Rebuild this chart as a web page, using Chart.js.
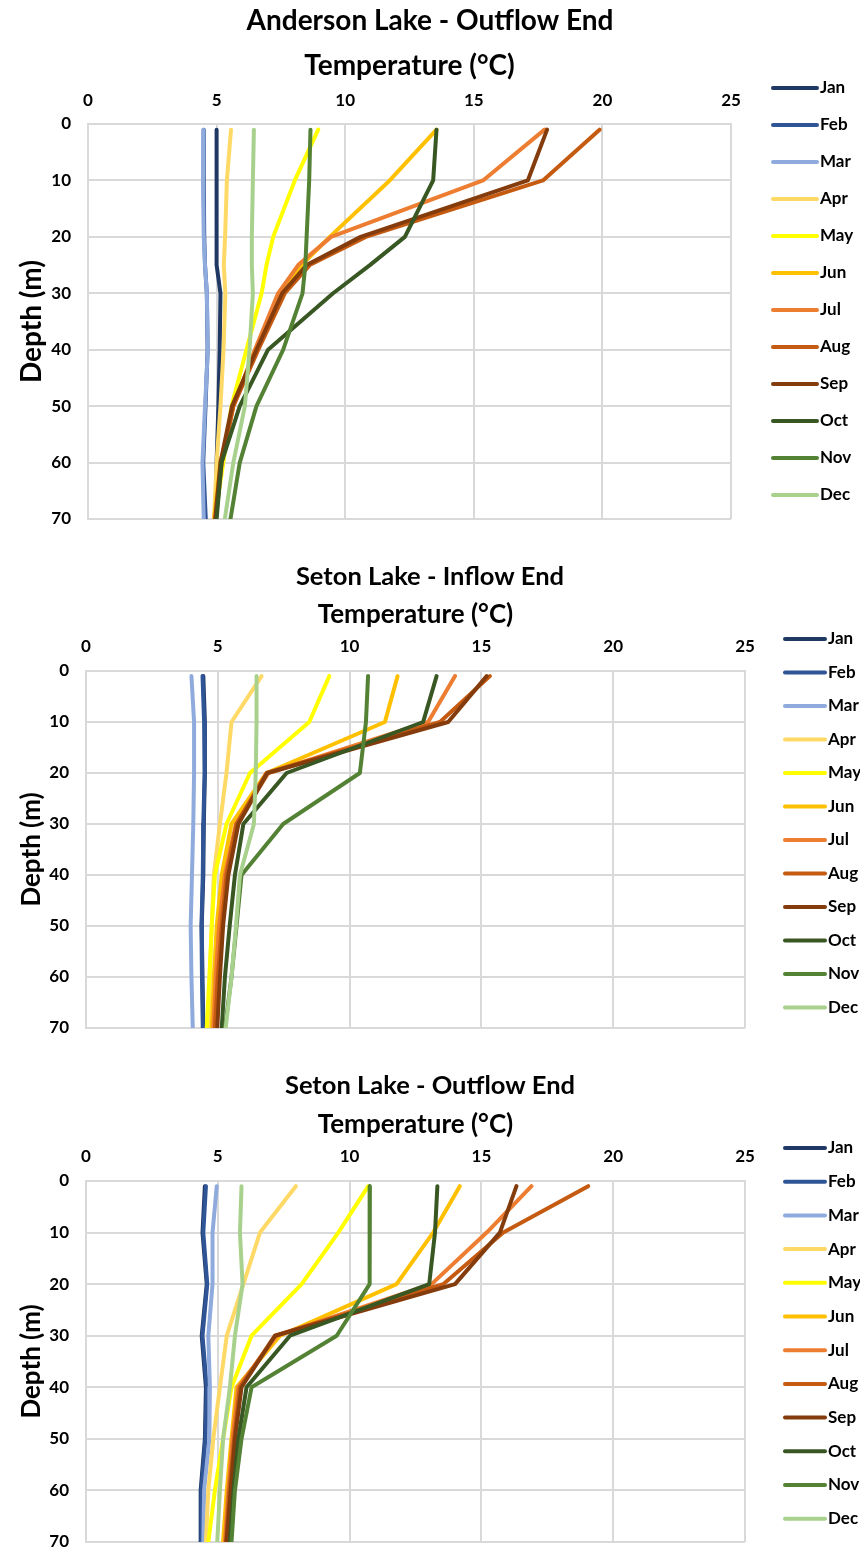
<!DOCTYPE html>
<html>
<head>
<meta charset="utf-8">
<script src="https://cdn.jsdelivr.net/npm/chart.js@4/dist/chart.umd.min.js"></script>
<style>
  body { margin: 0; background: #fff; width: 860px; height: 1547px; position: relative; overflow: hidden; }
  .box { position: absolute; left: 0; width: 860px; }
  canvas { display: block; }
</style>
</head>
<body>
<div class="box" style="top:0px"><canvas id="c1" width="860" height="549"></canvas></div>
<div class="box" style="top:555px"><canvas id="c2" width="860" height="503"></canvas></div>
<div class="box" style="top:1062px"><canvas id="c3" width="860" height="510"></canvas></div>
<script>
const months = ['Jan', 'Feb', 'Mar', 'Apr', 'May', 'Jun', 'Jul', 'Aug', 'Sep', 'Oct', 'Nov', 'Dec'];
const colors = ['#203864', '#2F5597', '#8FAADC', '#FFD966', '#FFFF00', '#FFC000',
                '#ED7D31', '#C55A11', '#843C0C', '#385723', '#548235', '#A9D18E'];
const tempTicks = [0, 5, 10, 15, 20, 25];
const depthTicks = [0, 10, 20, 30, 40, 50, 60, 70];

// Anderson Lake - Outflow End (temperature per depth, one row per month)
const andersonDepths = [1, 10, 20, 25, 30, 40, 50, 60, 70];
const andersonTemps = [
  [5.0, 5.0, 5.0, 5.0, 5.15, 5.12, 5.07, 5.0, 4.97],
  [4.5, 4.5, 4.52, 4.55, 4.62, 4.65, 4.57, 4.48, 4.58],
  [4.48, 4.47, 4.5, 4.55, 4.62, 4.66, 4.55, 4.45, 4.5],
  [5.56, 5.4, 5.33, 5.28, 5.34, 5.27, 5.15, 5.0, 4.9],
  [8.95, 8.04, 7.2, 6.94, 6.75, 6.16, 5.58, 5.26, 4.93],
  [13.55, 11.73, 9.4, 8.3, 7.45, 6.5, 5.65, 5.15, 4.9],
  [17.75, 15.36, 9.45, 8.17, 7.39, 6.49, 5.65, 5.19, 4.93],
  [19.89, 17.69, 10.8, 8.62, 7.65, 6.62, 5.65, 5.2, 4.97],
  [17.85, 17.1, 10.6, 8.5, 7.55, 6.55, 5.6, 5.15, 4.95],
  [13.55, 13.42, 12.32, 10.96, 9.53, 7.0, 5.9, 5.19, 5.0],
  [8.65, 8.6, 8.5, 8.45, 8.34, 7.59, 6.55, 5.9, 5.54],
  [6.45, 6.41, 6.37, 6.37, 6.41, 6.28, 6.1, 5.65, 5.32]
];

// Seton Lake - Inflow End
const setonInDepths = [1, 10, 20, 30, 40, 50, 60, 70];
const setonInTemps = [
  [4.45, 4.51, 4.51, 4.47, 4.45, 4.39, 4.42, 4.45],
  [4.42, 4.48, 4.5, 4.45, 4.43, 4.38, 4.4, 4.43],
  [4.0, 4.1, 4.1, 4.07, 4.02, 3.97, 4.0, 4.05],
  [6.66, 5.52, 5.33, 5.08, 4.85, 4.77, 4.7, 4.64],
  [9.23, 8.47, 6.22, 5.33, 4.89, 4.77, 4.68, 4.58],
  [11.82, 11.34, 6.85, 5.52, 5.15, 4.96, 4.85, 4.77],
  [14.0, 12.98, 6.92, 5.69, 5.27, 5.05, 4.92, 4.83],
  [15.32, 13.43, 6.85, 5.71, 5.33, 5.15, 5.0, 4.89],
  [15.2, 13.74, 6.88, 5.78, 5.4, 5.2, 5.08, 4.98],
  [13.3, 12.79, 7.61, 5.97, 5.65, 5.45, 5.27, 5.15],
  [10.7, 10.62, 10.39, 7.48, 5.9, 5.71, 5.52, 5.27],
  [6.47, 6.47, 6.44, 6.37, 5.84, 5.69, 5.52, 5.3]
];

// Seton Lake - Outflow End
const setonOutDepths = [1, 10, 20, 30, 40, 50, 60, 70];
const setonOutTemps = [
  [4.51, 4.42, 4.58, 4.39, 4.55, 4.51, 4.35, 4.35],
  [4.55, 4.45, 4.6, 4.42, 4.58, 4.53, 4.38, 4.38],
  [4.96, 4.8, 4.8, 4.64, 4.7, 4.68, 4.48, 4.45],
  [7.96, 6.6, 5.97, 5.34, 5.08, 4.83, 4.64, 4.55],
  [10.71, 9.57, 8.18, 6.28, 5.52, 5.2, 4.89, 4.64],
  [14.18, 13.17, 11.78, 7.36, 5.71, 5.52, 5.34, 5.2],
  [16.9, 15.2, 13.11, 7.23, 5.78, 5.56, 5.4, 5.27],
  [19.05, 15.83, 13.55, 7.17, 5.84, 5.62, 5.44, 5.31],
  [16.33, 15.7, 14.0, 7.17, 5.9, 5.65, 5.49, 5.33],
  [13.33, 13.24, 13.02, 7.74, 6.09, 5.78, 5.6, 5.46],
  [10.77, 10.75, 10.77, 9.51, 6.28, 5.9, 5.65, 5.52],
  [5.9, 5.84, 5.94, 5.65, 5.46, 5.2, 5.08, 4.98]
];

const FONT = 'Lato';
const gridGrey = '#D9D9D9';

// legend on the right, drawn as short line + label like the Excel one
const sideLegend = {
  id: 'sideLegend',
  afterDraw(chart, args, opts) {
    const ctx = chart.ctx;
    ctx.save();
    ctx.font = 'bold 17px ' + FONT;
    ctx.textBaseline = 'middle';
    ctx.textAlign = 'left';
    chart.data.datasets.forEach((ds, i) => {
      const y = opts.top + i * opts.step;
      ctx.strokeStyle = ds.borderColor;
      ctx.lineWidth = 4;
      ctx.lineCap = 'round';
      ctx.beginPath();
      ctx.moveTo(opts.x1, y);
      ctx.lineTo(opts.x2, y);
      ctx.stroke();
      ctx.fillStyle = '#000';
      ctx.fillText(ds.label, opts.x2 + 3, y);
    });
    ctx.restore();
  }
};

function makeChart(id, title, depths, temps, g) {
  const datasets = months.map((m, i) => ({
    label: m,
    data: temps[i].map((t, k) => ({x: t, y: depths[k]})),
    borderColor: colors[i],
    backgroundColor: colors[i],
    borderWidth: 4,
    pointRadius: 0,
    showLine: true,
    tension: 0,
    borderJoinStyle: 'round',
    borderCapStyle: 'round',
    order: months.length - i //later months on top, like Excel
  }));
  return new Chart(document.getElementById(id), {
    type: 'scatter',
    data: {datasets: datasets},
    options: {
      responsive: false,
      animation: false,
      layout: {padding: {left: 0, top: 0, right: 0, bottom: 30}},
      plugins: {
        legend: {display: false},
        tooltip: {enabled: false},
        title: {
          display: true,
          text: title,
          color: '#000',
          font: {family: FONT, size: g.titleSize, weight: 'bold'},
          padding: {top: g.titleTop, bottom: 0}
        },
        sideLegend: g.legend
      },
      scales: {
        x: {
          type: 'linear',
          position: 'top',
          min: 0,
          max: 25,
          afterBuildTicks: s => { s.ticks = tempTicks.map(v => ({value: v})); },
          afterFit: s => { s.height = g.xHeight; },
          ticks: {padding: g.tickPad, color: '#000', font: {family: FONT, size: 17, weight: 'bold'}},
          grid: {color: gridGrey, lineWidth: 2, drawTicks: false},
          border: {color: gridGrey, width: 2},
          title: {
            display: true,
            text: 'Temperature (°C)',
            color: '#000',
            font: {family: FONT, size: g.axisSize, weight: 'bold'},
            padding: {top: g.axisTitleTop, bottom: 0}
          }
        },
        y: {
          type: 'linear',
          reverse: true,
          min: 0,
          max: 70,
          afterBuildTicks: s => { s.ticks = depthTicks.map(v => ({value: v})); },
          afterFit: s => { s.width = g.left; },
          ticks: {padding: 17, color: '#000', font: {family: FONT, size: 17, weight: 'bold'}},
          grid: {color: gridGrey, lineWidth: 2, drawTicks: false},
          border: {color: gridGrey, width: 2},
          title: {
            display: true,
            text: 'Depth (m)',
            color: '#000',
            font: {family: FONT, size: g.axisSize, weight: 'bold'},
            padding: {top: 32 - g.axisSize * 0.6, bottom: 0}
          }
        },
        // empty axis that only reserves room for the legend on the right
        legendRoom: {
          type: 'linear',
          position: 'right',
          grid: {display: false},
          ticks: {display: false},
          border: {display: false},
          afterFit: s => { s.width = g.right; }
        }
      }
    },
    plugins: [sideLegend]
  });
}

makeChart('c1', 'Anderson Lake - Outflow End', andersonDepths, andersonTemps, {
  left: 88, right: 129, titleSize: 28, axisSize: 28,
  titleTop: 4, xHeight: 86.4, axisTitleTop: 11.5, tickPad: 13,
  legend: {top: 88, step: 37, x1: 773, x2: 817}
});
makeChart('c2', 'Seton Lake - Inflow End', setonInDepths, setonInTemps, {
  left: 86, right: 115, titleSize: 25.5, axisSize: 26,
  titleTop: 6.7, xHeight: 78.7, axisTitleTop: 7.1, tickPad: 14,
  legend: {top: 84, step: 33.5, x1: 785, x2: 825}
});
makeChart('c3', 'Seton Lake - Outflow End', setonOutDepths, setonOutTemps, {
  left: 86, right: 115, titleSize: 25.5, axisSize: 26,
  titleTop: 8.7, xHeight: 79.7, axisTitleTop: 8.1, tickPad: 14,
  legend: {top: 86, step: 33.7, x1: 785, x2: 825}
});
</script>
</body>
</html>
